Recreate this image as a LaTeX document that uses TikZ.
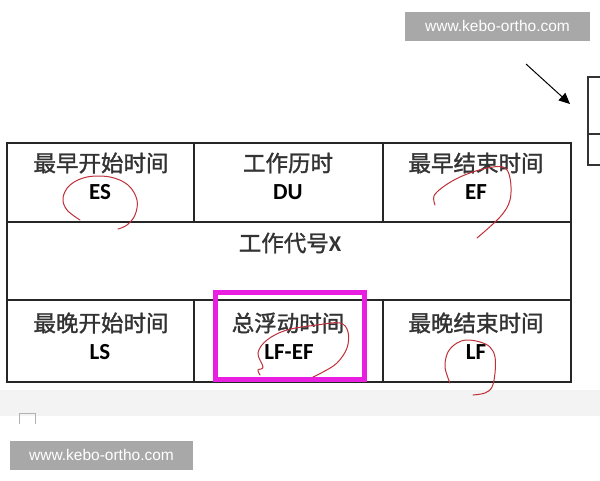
\documentclass[tikz,border=0pt]{standalone}
\usepackage{fontspec}
\setmainfont{Carlito}
\newfontfamily\cjk[FakeBold=1.4]{Noto Sans CJK SC}
\newfontfamily\wm{Liberation Sans}
\usetikzlibrary{arrows.meta}
\definecolor{wmgray}{HTML}{A8A8A8}
\definecolor{magbox}{HTML}{E81FE0}
\definecolor{penred}{HTML}{C0303A}
\definecolor{band}{HTML}{F3F3F3}
\tikzset{
  grid/.style={draw=black!85, line width=1.6pt},
  zh/.style={font=\cjk\fontsize{22.5}{24}\selectfont, text=black!80, inner sep=0pt},
  en/.style={font=\bfseries\fontsize{23}{25}\selectfont, text=black, inner sep=0pt},
  wmark/.style={fill=wmgray, text=white, font=\wm\fontsize{15.5}{17}\selectfont, inner sep=0pt},
  pen/.style={draw=penred, line width=1pt, line cap=round},
}
\begin{document}
\begin{tikzpicture}[x=1pt,y=-1pt]
\useasboundingbox (0,0) rectangle (600,480);
\fill[white] (0,0) rectangle (600,480);
% grey band below table
\fill[band] (0,390) rectangle (600,416);
\draw[black!30, line width=0.8pt] (19,424) -- (19,413) -- (35,413) -- (35,424);
% table
\draw[grid] (7,143) rectangle (571,382);
\draw[grid] (7,222) -- (571,222);
\draw[grid] (7,300) -- (571,300);
\draw[grid] (194,143) -- (194,222);
\draw[grid] (383,143) -- (383,222);
\draw[grid] (194,300) -- (194,382);
\draw[grid] (383,300) -- (383,382);
% texts
\node[zh] (es1) at (101,163) {最早开始时间};
\node[en] (es2) at (100,192) {ES};
\node[zh] (du1) at (288,163) {工作历时};
\node[en] (du2) at (288,192) {DU};
\node[zh] (ef1) at (476,163) {最早结束时间};
\node[en] (ef2) at (476,192) {EF};
\node[zh] (x) at (290,243) {工作代号\textbf{\rmfamily X}};
\node[zh] (ls1) at (101,323) {最晚开始时间};
\node[en] (ls2) at (100,352) {LS};
\node[zh] (tf1) at (288,323) {总浮动时间};
\node[en] (tf2) at (289,352) {LF-EF};
\node[zh] (lf1) at (476,323) {最晚结束时间};
\node[en] (lf2) at (476,352) {LF};
% magenta highlight
\draw[magbox, line width=5pt] (215,292) rectangle (364,379);
% red pen circles
\draw[pen] plot[smooth, tension=0.6] coordinates {(80,220) (67,210) (63,198) (70,185) (87,177) (110,177) (128,185) (137,200) (135,215) (127,225) (118,229)};
\draw[pen] plot[smooth, tension=0.6] coordinates {(435,205) (434,196) (443,187) (460,177) (483,169) (503,167) (510,178) (510,200) (500,217) (477,238)};
\draw[pen] plot[smooth, tension=0.6] coordinates {(260,375) (258,370) (263,367) (258,353) (267,340) (287,330) (317,325) (340,323) (348,332) (347,348) (337,363) (323,372) (313,377)};
\draw[pen] plot[smooth, tension=0.6] coordinates {(450,383) (445,367) (448,352) (457,343) (467,340) (480,342) (490,347) (495,357) (495,373) (492,387) (485,393) (473,395)};
% top-right fragment
\coordinate (a0) at (526,64);
\coordinate (a1) at (570,104);
\draw[-{Triangle[length=11pt,width=10pt]}, line width=1pt] (a0) -- (a1);
\draw[black!80, line width=1.4pt] (600,77) -- (588,77) -- (588,165) -- (600,165);
\draw[black!80, line width=1.4pt] (588,134) -- (600,134);
% watermarks
\node[wmark, minimum width=185pt, minimum height=29pt] (w1) at (497.5,26) {www.kebo-ortho.com};
\node[wmark, minimum width=183pt, minimum height=29pt] (w2) at (101.5,455) {www.kebo-ortho.com};
\end{tikzpicture}
\end{document}
